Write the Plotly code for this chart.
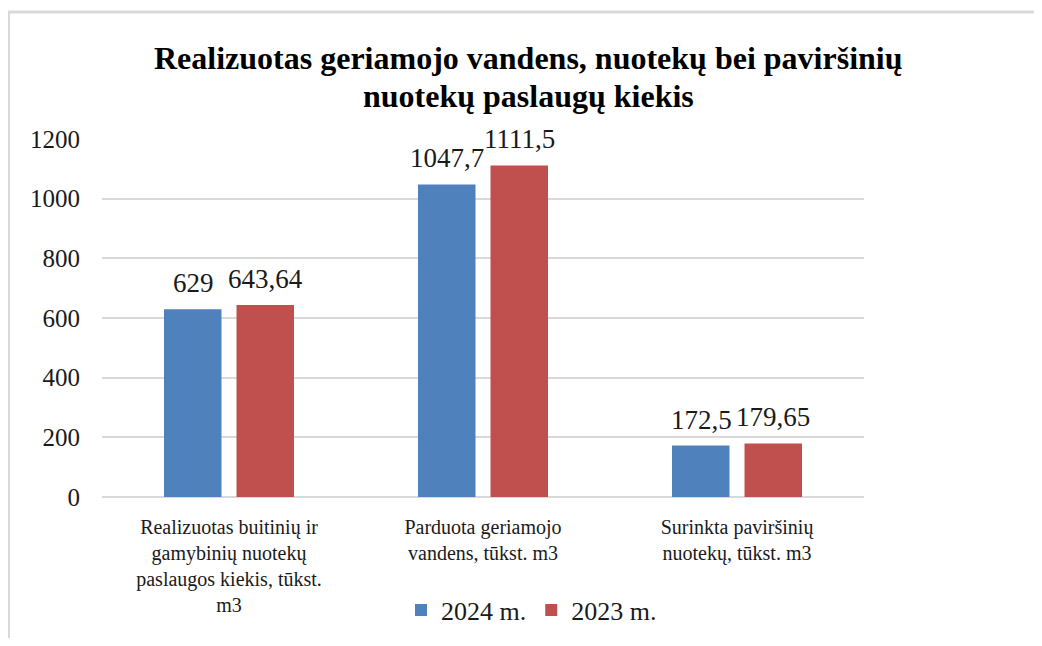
import plotly.graph_objects as go

categories = [
    "Realizuotas buitinių ir<br>gamybinių nuotekų<br>paslaugos kiekis, tūkst.<br>m3",
    "Parduota geriamojo<br>vandens, tūkst. m3",
    "Surinkta paviršinių<br>nuotekų, tūkst. m3",
]
series_names = ["2024 m.", "2023 m."]
values_2024 = [629, 1047.7, 172.5]
values_2023 = [643.64, 1111.5, 179.65]
y_ticks = [0, 200, 400, 600, 800, 1000, 1200]
title_lines = ["Realizuotas geriamojo vandens, nuotekų bei paviršinių", "nuotekų paslaugų kiekis"]

colors = ["#4F81BD", "#C0504D"]
FONT = "Liberation Serif"
TXT = "#1a1a1a"

# page body has an 8px margin on every side: keep the figure inside the window
OFF = 8
W, H = 1042 - 2 * OFF, 646 - 2 * OFF
PLOT_L, PLOT_R, PLOT_T, PLOT_B = 102 - OFF, 864 - OFF, 139 - OFF, 497 - OFF
L, R, T, B = PLOT_L, W - PLOT_R, PLOT_T, H - PLOT_B
PW, PH = PLOT_R - PLOT_L, PLOT_B - PLOT_T


def px_x(px):  # reference window pixel -> paper
    return (px - OFF - PLOT_L) / PW


def px_y(py):
    return (PLOT_B - (py - OFF)) / PH


def fmt(v):
    return ("%g" % v).replace(".", ",")


fig = go.Figure()
for name, vals, col in zip(series_names, [values_2024, values_2023], colors):
    fig.add_trace(go.Bar(x=categories, y=vals, name=name, marker=dict(color=col, line=dict(width=0))))

annotations = []
for shift, vals in zip([-36, 36], [values_2024, values_2023]):
    for c, v in zip(categories, vals):
        annotations.append(dict(x=c, y=v, xref="x", yref="y", text=fmt(v), showarrow=False,
                                xshift=shift, yshift=26, yanchor="middle",
                                font=dict(family=FONT, size=27, color=TXT)))

for line, py in zip(title_lines, [58, 96]):
    annotations.append(dict(x=px_x(528), y=px_y(py), xref="paper", yref="paper", text="<b>%s</b>" % line,
                            showarrow=False, xanchor="center", yanchor="middle",
                            font=dict(family=FONT, size=32, color="#000000")))

border = dict(color="#D9D9D9", width=3)
fig.update_layout(
    width=W, height=H,
    margin=dict(l=L, r=R, t=T, b=B, autoexpand=False),
    paper_bgcolor="white", plot_bgcolor="white",
    barmode="group", bargap=0.429, bargroupgap=0.207,
    font=dict(family=FONT, color=TXT),
    showlegend=True,
    legend=dict(orientation="h", x=px_x(401), y=px_y(610), xanchor="left", yanchor="middle",
                font=dict(family=FONT, size=26, color=TXT), bgcolor="rgba(0,0,0,0)"),
    annotations=annotations,
    shapes=[
        dict(type="line", xref="paper", yref="paper", x0=px_x(7), x1=px_x(1042), y0=px_y(12), y1=px_y(12),
             line=border, layer="below"),
        dict(type="line", xref="paper", yref="paper", x0=px_x(8.5), x1=px_x(8.5), y0=px_y(11), y1=px_y(643),
             line=border, layer="below"),
    ],
    xaxis=dict(showgrid=False, showline=False, zeroline=False, ticks="",
               tickfont=dict(family=FONT, size=20, color=TXT), ticklabelstandoff=16),
    yaxis=dict(range=[0, 1200], tickvals=y_ticks, showgrid=True, gridcolor="#D9D9D9", gridwidth=2,
               zeroline=True, zerolinecolor="#D9D9D9", zerolinewidth=2, showline=False, ticks="",
               tickfont=dict(family=FONT, size=25, color=TXT), ticklabelstandoff=21),
)

fig.write_html("out.html")
